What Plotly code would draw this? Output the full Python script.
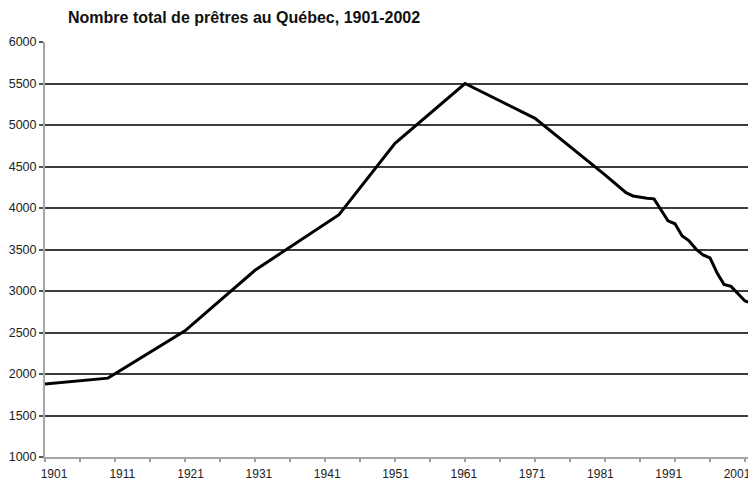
import plotly.graph_objects as go

# Nombre de prêtres au Québec
years = [1901, 1910, 1921, 1931, 1943, 1951, 1961, 1971, 1981, 1982,
         1983, 1984, 1985, 1986, 1987, 1988, 1989, 1990, 1991, 1992,
         1993, 1994, 1995, 1996, 1997, 1998, 1999, 2000, 2001, 2002]
priests = [1880, 1950, 2520, 3250, 3920, 4780, 5500, 5080, 4400, 4330,
           4250, 4185, 4145, 4130, 4118, 4110, 3975, 3845, 3810, 3665,
           3605, 3505, 3435, 3400, 3220, 3080, 3055, 2970, 2880, 2850]

tick_years = list(range(1901, 2002, 5))
label_years = list(range(1901, 2002, 10))

fig = go.Figure()

fig.add_trace(go.Scatter(
    x=years,
    y=priests,
    mode="lines",
    line=dict(color="black", width=3),
    showlegend=False,
    hoverinfo="x+y"
))

# trace vide qui sert seulement à porter l'axe des étiquettes
fig.add_trace(go.Scatter(
    x=label_years,
    y=[None] * len(label_years),
    xaxis="x2",
    mode="lines",
    showlegend=False,
    hoverinfo="skip"
))

fig.update_layout(
    width=748,
    height=491,
    margin=dict(l=45, r=0, t=42, b=34),
    plot_bgcolor="white",
    paper_bgcolor="white",
    font=dict(family="Arial, Liberation Sans, sans-serif", color="#222"),
    title=dict(
        text="<b>Nombre total de prêtres au Québec, 1901-2002</b>",
        x=68 / 748, xanchor="left", xref="container",
        y=1 - 17 / 491, yanchor="middle",
        font=dict(size=16, color="#111")
    ),
    xaxis=dict(
        range=[1901, 1901 + 703 / 7],
        tickvals=tick_years,
        ticks="outside", ticklen=3, tickcolor="#999", tickwidth=2,
        showticklabels=False,
        automargin=False,
        showgrid=False, zeroline=False,
        showline=True, linecolor="#a6a6a6", linewidth=2
    ),
    # étiquettes des années, légèrement décalées comme dans l'original
    xaxis2=dict(
        overlaying="x", anchor="y", side="bottom",
        range=[1901 - 9 / 6.83, 1901 + 694 / 6.83],
        tickvals=label_years,
        ticks="", ticklabelstandoff=8,
        ticklabeloverflow="allow",
        automargin=False,
        showgrid=False, zeroline=False, showline=False,
        tickfont=dict(size=12, color="#222")
    ),
    yaxis=dict(
        range=[1000, 6000],
        dtick=500,
        ticks="outside", ticklen=4, tickcolor="#555", tickwidth=1.5,
        automargin=False,
        showgrid=True, gridcolor="#3c3c3c", gridwidth=1.7,
        zeroline=False,
        showline=True, linecolor="#a6a6a6", linewidth=2,
        tickfont=dict(size=12.5, color="#222")
    )
)

# la page par défaut a une marge de 8 px autour du graphique
fig.write_html("out.html", config={"displayModeBar": False},
               post_script="document.body.style.margin = '0';")
